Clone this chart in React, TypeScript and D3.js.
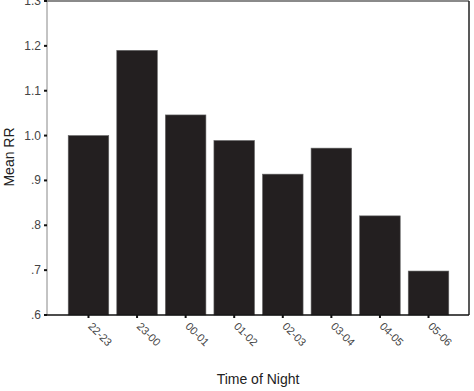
import React from "react";
import * as d3 from "d3";

const categories = ["22-23", "23-00", "00-01", "01-02", "02-03", "03-04", "04-05", "05-06"];
const meanRR = [1.0, 1.19, 1.046, 0.989, 0.914, 0.972, 0.821, 0.698];
const yTicks = [0.6, 0.7, 0.8, 0.9, 1.0, 1.1, 1.2, 1.3];
const yTickLabels = [".6", ".7", ".8", ".9", "1.0", "1.1", "1.2", "1.3"];

export default function App() {
  const W = 474, H = 391;
  const left = 47, right = 469, top = 1, bottom = 315;
  const x = d3.scaleBand<string>().domain(categories).range([64.2, 452.8]).paddingInner(0.165).paddingOuter(0.0825);
  const y = d3.scaleLinear().domain([0.6, 1.3]).range([bottom, top]);
  const font = "'Liberation Sans', Arial, sans-serif";
  return (
    <svg width={W} height={H} style={{ position: "absolute", left: 0, top: 0, background: "#fff" }} fontFamily={font}>
      {/* frame */}
      <line x1={left} x2={right} y1={top} y2={top} stroke="#8a8a8a" strokeWidth={2} />
      <line x1={right} x2={right} y1={top} y2={bottom} stroke="#222" strokeWidth={1.5} />
      <line x1={left} x2={left} y1={top} y2={bottom} stroke="#888" strokeWidth={1} />
      {categories.map((c, i) => (
        <rect key={c} x={x(c)} y={y(meanRR[i])} width={x.bandwidth()} height={bottom - y(meanRR[i])}
          fill="#231f20" stroke="#666" strokeWidth={0.6} />
      ))}
      <line x1={left} x2={right} y1={bottom} y2={bottom} stroke="#111" strokeWidth={1.3} />
      {yTicks.map((t, i) => (
        <g key={t}>
          <rect x={left - 3} y={y(t) - 1} width={3} height={2} fill="#111" />
          <text x={41} y={y(t) + 4} textAnchor="end" fontSize={12} fill="#444">{yTickLabels[i]}</text>
        </g>
      ))}
      {categories.map((c) => {
        const cx = (x(c) as number) + x.bandwidth() / 2;
        return (
          <g key={c}>
            <rect x={cx - 1} y={bottom} width={2} height={3} fill="#111" />
            <text transform={`translate(${cx - 1},${bottom + 12}) rotate(45)`} fontSize={11} fill="#444">{c}</text>
          </g>
        );
      })}
      <text transform={`translate(14,157) rotate(-90)`} textAnchor="middle" fontSize={14} fill="#222">Mean RR</text>
      <text x={258} y={384} textAnchor="middle" fontSize={14} fill="#222">Time of Night</text>
    </svg>
  );
}
